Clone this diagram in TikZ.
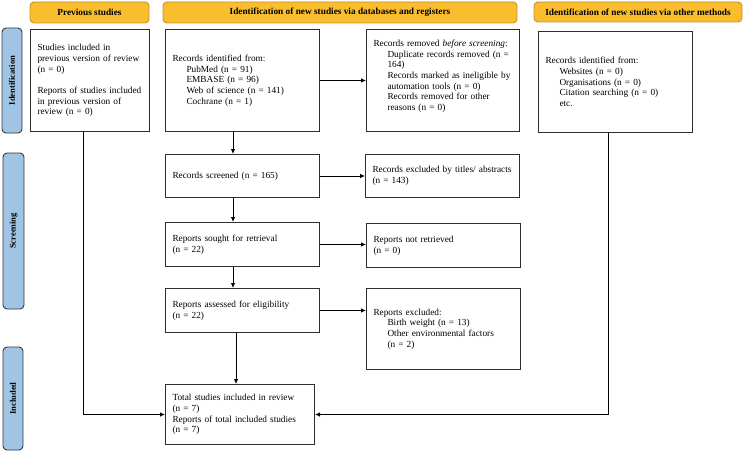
\documentclass[tikz,border=0pt]{standalone}
\usepackage{fontspec}
\setmainfont{Liberation Serif}
\usetikzlibrary{arrows.meta}
\definecolor{hdrfill}{RGB}{250,189,46}
\definecolor{hdrborder}{RGB}{196,146,40}
\definecolor{sidefill}{RGB}{160,196,228}
\definecolor{sideborder}{RGB}{55,55,60}
\definecolor{boxcol}{RGB}{45,45,45}
\newcommand{\myind}{\hspace*{14pt}}
\begin{document}
\begin{tikzpicture}[x=1pt,y=-1pt,
  hdr/.style={draw=hdrborder, fill=hdrfill, rounded corners=4pt, line width=0.9pt,
    font=\fontsize{9.3}{11}\selectfont\bfseries, inner sep=0pt, anchor=center},
  side/.style={draw=sideborder, fill=sidefill, rounded corners=4pt, line width=0.9pt,
    rotate=90, font=\fontsize{8.5}{10}\selectfont\bfseries, inner sep=0pt, anchor=center},
  boxnode/.style={draw=boxcol, line width=1pt, anchor=north west, inner xsep=7pt,
    inner ysep=0pt, align=left, font=\fontsize{9.3}{10.7}\selectfont},
  arr/.style={-{Latex[length=5pt,width=4.5pt]}, line width=0.8pt, draw=black}
]
\useasboundingbox (0,0) rectangle (744,452);

% headers
\node[hdr, minimum width=119pt, minimum height=21pt] (hprev) at (89.5,12.5) {Previous studies};
\node[hdr, minimum width=354pt, minimum height=21pt] (hdb) at (340,12.5) {Identification of new studies via databases and registers};
\node[hdr, minimum width=208pt, minimum height=20pt] (hoth) at (638,12) {Identification of new studies via other methods};

% side labels
\node[side, minimum width=105pt, minimum height=20pt] (sid) at (12,80.5) {Identification};
\node[side, minimum width=156pt, minimum height=21pt] (sscr) at (13.5,231) {Screening};
\node[side, minimum width=103pt, minimum height=20pt] (sinc) at (13,398.5) {Included};

% boxes
\node[boxnode, minimum width=119pt, minimum height=102pt, text width=105pt] (prev) at (30,29)
  {Studies included in\\ previous version of review\\ (n = 0)\\[10.7pt] Reports of studies included\\ in previous version of\\ review (n = 0)};
\node[boxnode, minimum width=154pt, minimum height=102pt, text width=140pt] (ident) at (165,29)
  {Records identified from:\\ \myind PubMed (n = 91)\\ \myind EMBASE (n = 96)\\ \myind Web of science (n = 141)\\ \myind Cochrane (n = 1)};
\node[boxnode, minimum width=153pt, minimum height=102pt, text width=139pt] (removed) at (366,29)
  {Records removed \textit{before screening}:\\ \myind Duplicate records removed (n =\\ \myind 164)\\ \myind Records marked as ineligible by\\ \myind automation tools (n = 0)\\ \myind Records removed for other\\ \myind reasons (n = 0)\\ \mbox{}};
\node[boxnode, minimum width=154pt, minimum height=101pt, text width=140pt] (other) at (538,31)
  {Records identified from:\\ \myind Websites (n = 0)\\ \myind Organisations (n = 0)\\ \myind Citation searching (n = 0)\\ \myind etc.};
\node[boxnode, minimum width=154pt, minimum height=43pt, text width=140pt] (screened) at (165,154)
  {Records screened (n = 165)};
\node[boxnode, minimum width=154pt, minimum height=43pt, text width=140pt] (excl) at (365,154)
  {Records excluded by titles/ abstracts\\ (n = 143)};
\node[boxnode, minimum width=154pt, minimum height=44pt, text width=140pt] (sought) at (165,222)
  {Reports sought for retrieval\\ (n = 22)};
\node[boxnode, minimum width=154pt, minimum height=44pt, text width=140pt] (notret) at (366,223)
  {Reports not retrieved\\ (n = 0)};
\node[boxnode, minimum width=154pt, minimum height=44pt, text width=140pt] (assessed) at (165,288)
  {Reports assessed for eligibility\\ (n = 22)};
\node[boxnode, minimum width=154pt, minimum height=81pt, text width=140pt] (rexcl) at (366,288)
  {Reports excluded:\\ \myind Birth weight (n = 13)\\ \myind Other environmental factors\\ \myind (n = 2)};
\node[boxnode, minimum width=149pt, minimum height=60pt, text width=135pt] (total) at (165,384)
  {Total studies included in review\\ (n = 7)\\ Reports of total included studies\\ (n = 7)};

% connector columns
\coordinate (xl) at (83,0);
\coordinate (xm) at (233,0);
\coordinate (xn) at (236,0);
\coordinate (xr) at (608,0);

\draw[arr] (prev.south -| xl) |- (total.west);
\draw[arr] (other.south -| xr) |- (total.east);
\draw[arr] (ident.south -| xm) -- (screened.north -| xm);
\draw[arr] (screened.south -| xm) -- (sought.north -| xm);
\draw[arr] (sought.south -| xm) -- (assessed.north -| xm);
\draw[arr] (assessed.south -| xn) -- (total.north -| xn);
\draw[arr] (ident.east) -- (ident.east -| removed.west);
\draw[arr] (screened.east) -- (screened.east -| excl.west);
\draw[arr] (sought.east) -- (sought.east -| notret.west);
\draw[arr] (assessed.east) -- (assessed.east -| rexcl.west);
\end{tikzpicture}
\end{document}
